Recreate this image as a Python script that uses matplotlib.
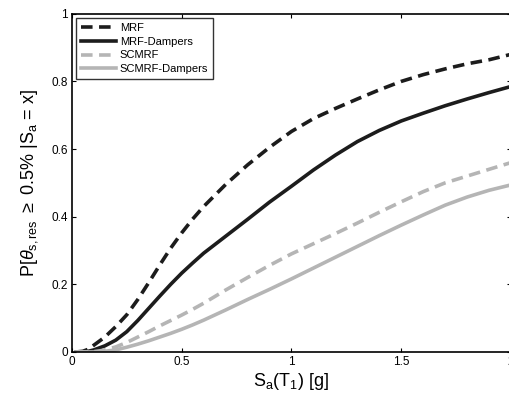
"""
fragility of residual drift exceedance for the four frame systems
"""

import matplotlib
matplotlib.use("Agg")
import matplotlib.pyplot as plt

plt.rcParams['font.family'] = ['Liberation Sans', 'DejaVu Sans']
plt.rcParams['mathtext.fontset'] = 'custom'
plt.rcParams['mathtext.rm'] = 'Liberation Sans'
plt.rcParams['mathtext.it'] = 'Liberation Sans:italic'

# spectral acceleration values (g)
sa = [0.02, 0.05, 0.075, 0.1, 0.125, 0.15, 0.2, 0.25, 0.3, 0.35, 0.4, 0.45,
      0.5, 0.55, 0.6, 0.7, 0.8, 0.9, 1.0, 1.1, 1.2, 1.3, 1.4, 1.5, 1.6, 1.7,
      1.8, 1.9, 2.0]

# probability of exceeding 0.5% residual drift
p_mrf = [0.0, 0.002, 0.008, 0.02, 0.032, 0.044, 0.075, 0.11, 0.155, 0.205,
         0.257, 0.307, 0.352, 0.393, 0.43, 0.495, 0.553, 0.605, 0.652, 0.69,
         0.72, 0.748, 0.775, 0.80, 0.82, 0.837, 0.852, 0.864, 0.88]
p_mrf_damp = [0.0, 0.0, 0.002, 0.006, 0.012, 0.018, 0.035, 0.06, 0.093,
              0.129, 0.165, 0.2, 0.233, 0.263, 0.292, 0.342, 0.392, 0.443,
              0.49, 0.538, 0.582, 0.622, 0.655, 0.683, 0.706, 0.728, 0.748,
              0.767, 0.785]
p_scmrf = [0.0, 0.0, 0.0, 0.001, 0.003, 0.006, 0.015, 0.028, 0.044, 0.06,
           0.077, 0.093, 0.109, 0.126, 0.144, 0.183, 0.22, 0.256, 0.29, 0.32,
           0.35, 0.381, 0.413, 0.444, 0.474, 0.5, 0.52, 0.54, 0.56]
p_scmrf_damp = [0.0, 0.0, 0.0, 0.0, 0.001, 0.002, 0.006, 0.014, 0.023, 0.033,
                0.044, 0.055, 0.067, 0.08, 0.094, 0.124, 0.155, 0.185, 0.216,
                0.248, 0.28, 0.312, 0.344, 0.375, 0.405, 0.434, 0.458, 0.478,
                0.494]

x_ticks = [0, 0.5, 1, 1.5, 2]
x_tick_labels = ['0', '0.5', '1', '1.5', '2']
y_ticks = [0, 0.2, 0.4, 0.6, 0.8, 1]
y_tick_labels = ['0', '0.2', '0.4', '0.6', '0.8', '1']

dark = '#1c1c1c'
light = '#b5b5b5'
dash = (0, (3.2, 1.8))

fig = plt.figure(figsize=(5.1, 4.05), dpi=100)
ax = fig.add_axes([0.141, 0.131, 0.861, 0.835])

ax.plot(sa, p_mrf, color=dark, lw=2.6, linestyle=dash, label='MRF')
ax.plot(sa, p_mrf_damp, color=dark, lw=2.6, label='MRF-Dampers')
ax.plot(sa, p_scmrf, color=light, lw=2.6, linestyle=dash, label='SCMRF')
ax.plot(sa, p_scmrf_damp, color=light, lw=2.6, label='SCMRF-Dampers')

ax.set_xlim(0, 2)
ax.set_ylim(0, 1)
ax.set_xticks(x_ticks)
ax.set_xticklabels(x_tick_labels)
ax.set_yticks(y_ticks)
ax.set_yticklabels(y_tick_labels)
ax.tick_params(direction='in', top=True, right=True, length=3, width=0.8,
               labelsize=8.5, pad=3)
for s in ax.spines.values():
    s.set_linewidth(1.2)

ax.set_xlabel(r'S$_\mathrm{a}$(T$_\mathrm{1}$) [g]', fontsize=13, labelpad=2)
ax.set_ylabel(r'P[$\theta_{\mathrm{s,res}}$ $\geq$ 0.5% |S$_\mathrm{a}$ = x]',
              fontsize=13, labelpad=8)

leg = ax.legend(loc='upper left', fontsize=8, frameon=True, fancybox=False,
                edgecolor='black', borderpad=0.4, labelspacing=0.35,
                handlelength=3.2, handletextpad=0.3,
                bbox_to_anchor=(0.0, 1.0), borderaxespad=0.4)
leg.get_frame().set_linewidth(1.0)

fig.savefig('out.png', dpi=100)
